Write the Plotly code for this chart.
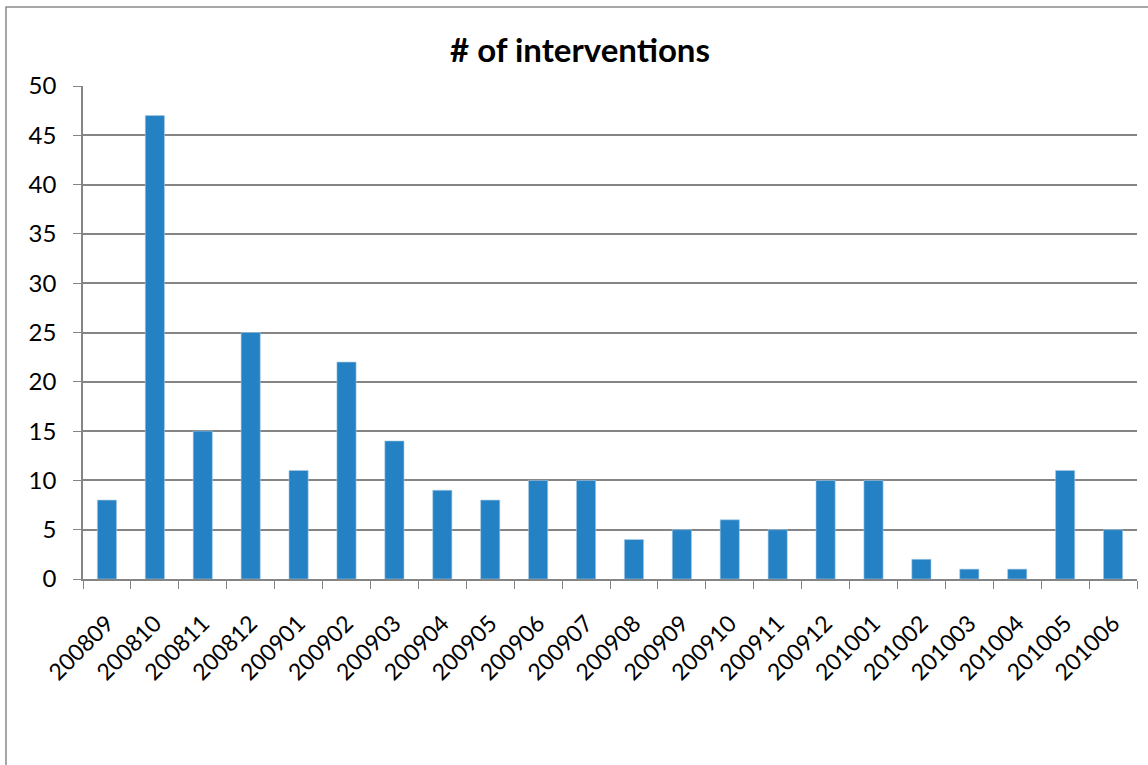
import plotly.graph_objects as go

months = ["200809", "200810", "200811", "200812", "200901", "200902", "200903",
          "200904", "200905", "200906", "200907", "200908", "200909", "200910",
          "200911", "200912", "201001", "201002", "201003", "201004", "201005",
          "201006"]
interventions = [8, 47, 15, 25, 11, 22, 14, 9, 8, 10, 10, 4, 5, 6, 5, 10, 10,
                 2, 1, 1, 11, 5]
title_text = "# of interventions"

FONT = "Lato, Carlito, 'Open Sans', sans-serif"
GRAY = "#858585"

fig = go.Figure(go.Bar(
    x=months, y=interventions,
    marker=dict(color="#2381c4", line=dict(color="#a9cbe6", width=0.6)),
))

W, H = 1148, 765
ml, mr, mt, mb = 83, 11, 86, 186
pw, ph = W - ml - mr, H - mt - mb

fig.update_layout(
    width=W, height=H,
    margin=dict(l=ml, r=mr, t=mt, b=mb, pad=0),
    paper_bgcolor="white", plot_bgcolor="white",
    bargap=0.6,
    showlegend=False,
    font=dict(family=FONT, size=23, color="black"),
    title=dict(text="<b>" + title_text + "</b>", x=(580 - ml) / pw, xref="paper",
               y=1 - 50 / H, yanchor="middle", xanchor="center",
               font=dict(size=33, family=FONT, color="black")),
    xaxis=dict(type="category", tickangle=-45, ticks="outside", ticklen=8,
               tickcolor=GRAY, tickson="boundaries", showline=True,
               linecolor=GRAY, linewidth=1.6, showgrid=False,
               ticklabelstandoff=20,
               tickfont=dict(size=23)),
    yaxis=dict(range=[0, 50], dtick=5, ticks="outside", ticklen=8,
               tickcolor=GRAY, showline=True, linecolor=GRAY, linewidth=1.6,
               showgrid=True, gridcolor=GRAY, gridwidth=1.5, zeroline=False,
               ticklabelstandoff=12,
               tickfont=dict(size=24)),
    shapes=[dict(type="rect", xref="paper", yref="paper",
                 x0=(6 - ml) / pw, x1=1 + 40 / pw,
                 y0=-(mb + 40) / ph, y1=1 + (mt - 7) / ph,
                 line=dict(color="#8a8a8a", width=1.5), fillcolor="rgba(0,0,0,0)",
                 layer="below")],
)

fig.write_html("out.html", config={"displayModeBar": False},
               post_script="document.body.style.margin='0';document.body.style.overflow='hidden';")
